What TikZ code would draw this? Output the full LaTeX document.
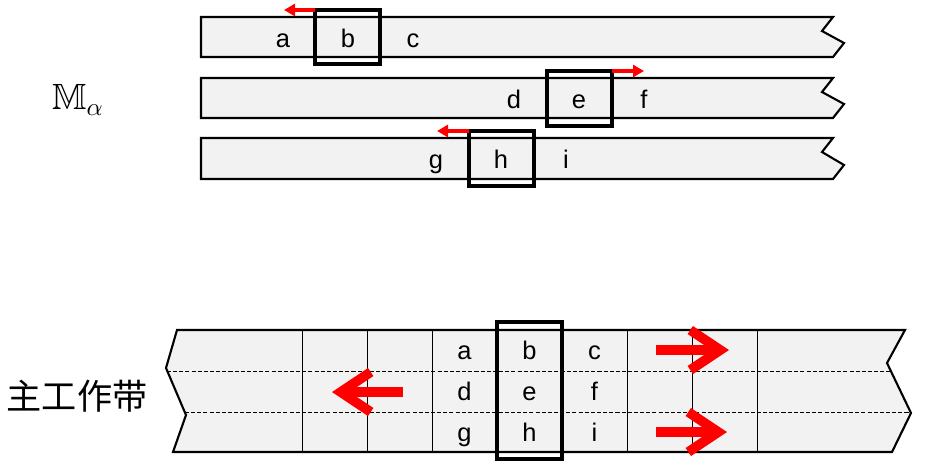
\documentclass[tikz,border=0pt]{standalone}
\usepackage{amssymb}
\usepackage{fontspec}
\setsansfont{Liberation Sans}
\newfontfamily\cjkfont{Noto Sans CJK SC}
\usetikzlibrary{arrows.meta}
\definecolor{tapegray}{RGB}{242,242,242}
\tikzset{
  tape/.style={draw, fill=tapegray, line width=1.2pt, line join=miter},
  cellline/.style={line width=0.5pt},
  rowline/.style={line width=0.5pt, dash pattern=on 2.3pt off 1.2pt},
  headbox/.style={draw, line width=2pt, minimum width=1.3cm, inner sep=0pt, outer sep=0pt},
  sym/.style={font=\sffamily\fontsize{14.5}{17}\selectfont, anchor=base, inner sep=0pt},
  movearrow/.style={red, line width=1.9pt, -{Triangle[length=0.22cm, width=0.24cm]}},
  bigarrow/.style={red, line width=5.5pt, -{Straight Barb[length=0.6cm, width=0.8cm]}}
}

\begin{document}
\begin{tikzpicture}[x=0.02cm, y=-0.02cm]
        \useasboundingbox (0,0) rectangle (929,471);
        \draw[tape] (201,17) -- (833,17) -- (822,31) -- (844,43) -- (833,57) -- (201,57) -- cycle;
        \draw[tape] (201,78) -- (833,78) -- (822,92) -- (844,104) -- (833,118) -- (201,118) -- cycle;
        \draw[tape] (201,138) -- (833,138) -- (822,152) -- (844,165) -- (833,179) -- (201,179) -- cycle;
        \node[sym] (a) at (283,47) {a};
        \node[sym] (b) at (348,47) {b};
        \node[sym] (c) at (413,47) {c};
        \node[sym] (d) at (514,108) {d};
        \node[sym] (e) at (579,108) {e};
        \node[sym] (f) at (644,108) {f};
        \node[sym] (g) at (436,168) {g};
        \node[sym] (h) at (501,168) {h};
        \node[sym] (i) at (566,168) {i};
        \node[headbox, minimum height=1.08cm] (boxb) at (347.5,37) {};
        \node[headbox, minimum height=1.1cm] (boxe) at (579.5,98.5) {};
        \node[headbox, minimum height=1.1cm] (boxh) at (501.5,158.5) {};
        \draw[movearrow] (boxb.north west) -- ++(-31,0);
        \draw[movearrow] (boxe.north east) -- ++(32,0);
        \draw[movearrow] (boxh.north west) -- ++(-32,0);
        \node[scale=1.3] (malpha) at (78,100) {\fontsize{16}{19}\selectfont $\mathbb{M}_\alpha$};

        \draw[tape] (177,330) -- (905,330) -- (887,363) -- (911,413) -- (892,452) -- (173,452) -- (186,415) -- (166,368) -- cycle;
        \draw[cellline] (302,330) -- (302,452);
        \draw[cellline] (367,330) -- (367,452);
        \draw[cellline] (432,330) -- (432,452);
        \draw[cellline] (497,330) -- (497,452);
        \draw[cellline] (562,330) -- (562,452);
        \draw[cellline] (627,330) -- (627,452);
        \draw[cellline] (692,330) -- (692,452);
        \draw[cellline] (757,330) -- (757,452);
        \draw[rowline] (167,371) -- (891,371);
        \draw[rowline] (185,412) -- (910,412);
        \node[sym] (wa) at (464.5,359) {a};
        \node[sym] (wb) at (529.5,359) {b};
        \node[sym] (wc) at (594.5,359) {c};
        \node[sym] (wd) at (464.5,400) {d};
        \node[sym] (we) at (529.5,400) {e};
        \node[sym] (wf) at (594.5,400) {f};
        \node[sym] (wg) at (464.5,441) {g};
        \node[sym] (wh) at (529.5,441) {h};
        \node[sym] (wi) at (594.5,441) {i};
        \node[headbox, minimum height=2.74cm] (boxwork) at (529.5,390.5) {};
        \coordinate (rowatail) at (656,350);
        \coordinate (rowahead) at (729,350);
        \coordinate (rowbtail) at (403,392);
        \coordinate (rowbhead) at (332,392);
        \coordinate (rowctail) at (656,432);
        \coordinate (rowchead) at (727,432);
        \draw[bigarrow] (rowatail) -- (rowahead);
        \draw[bigarrow] (rowbtail) -- (rowbhead);
        \draw[bigarrow] (rowctail) -- (rowchead);
        \node (worklabel) at (77,396) {\cjkfont\fontsize{20}{24}\selectfont 主工作带};
    \end{tikzpicture}
\end{document}
